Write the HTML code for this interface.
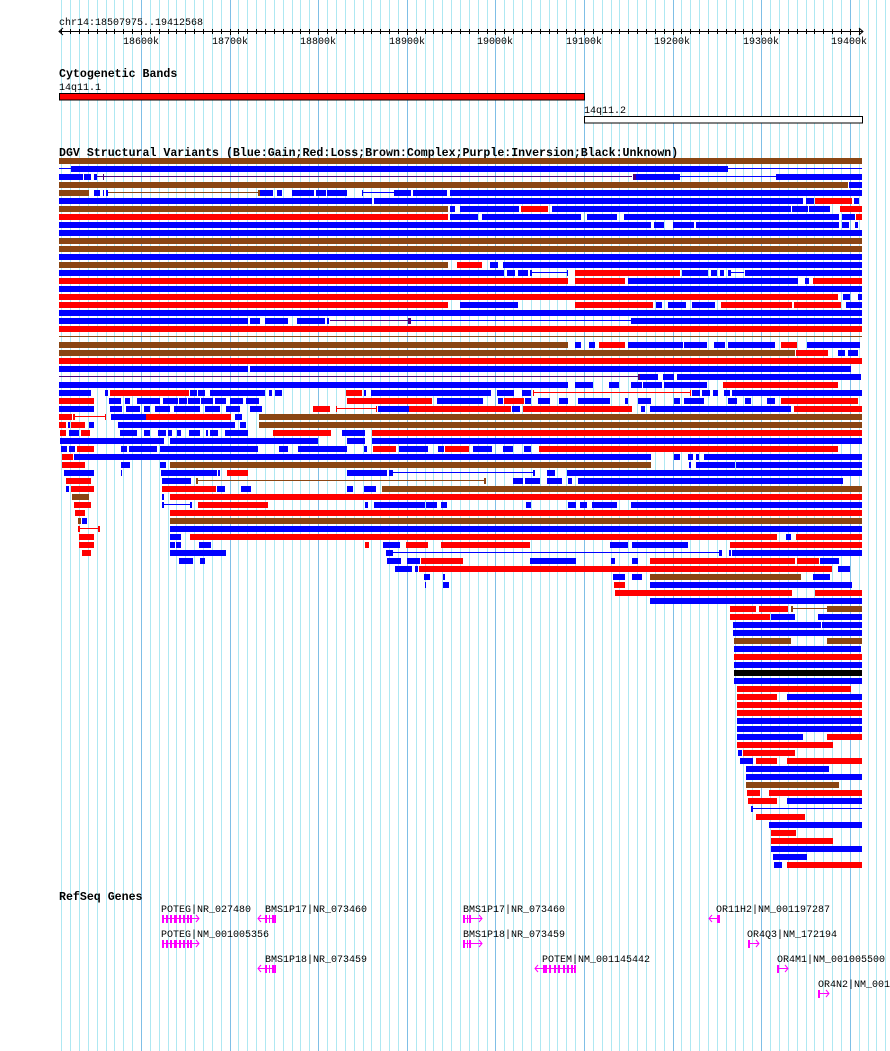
<!DOCTYPE html>
<html><head><meta charset="utf-8">
<style>
html,body{margin:0;padding:0;background:#fff;}
svg{display:block;}
text{font-family:"Liberation Mono",monospace;font-size:10px;fill:#000;}
.b{font-weight:bold;font-size:11.6px;}
</style></head>
<body>
<svg id="s" width="890" height="1051" xmlns="http://www.w3.org/2000/svg">
<g id="grid"></g>
<g id="ruler"></g>
<text x="59" y="25">chr14:18507975..19412568</text>
<text x="141" y="44" text-anchor="middle">18600k</text>
<text x="230" y="44" text-anchor="middle">18700k</text>
<text x="318" y="44" text-anchor="middle">18800k</text>
<text x="407" y="44" text-anchor="middle">18900k</text>
<text x="495" y="44" text-anchor="middle">19000k</text>
<text x="584" y="44" text-anchor="middle">19100k</text>
<text x="672" y="44" text-anchor="middle">19200k</text>
<text x="761" y="44" text-anchor="middle">19300k</text>
<text x="849" y="44" text-anchor="middle">19400k</text>
<text class="b" x="59" y="77">Cytogenetic Bands</text>
<text x="59" y="90">14q11.1</text>
<rect x="59.5" y="93.5" width="525" height="6.5" fill="#ff0000" stroke="#000" stroke-width="1"/>
<text x="584" y="113">14q11.2</text>
<rect x="584.5" y="116.5" width="278" height="6.5" fill="#fff" stroke="#000" stroke-width="1"/>
<text class="b" x="59" y="156">DGV Structural Variants (Blue:Gain;Red:Loss;Brown:Complex;Purple:Inversion;Black:Unknown)</text>
<g id="dgv"></g>
<text class="b" x="59" y="900">RefSeq Genes</text>
<text x="161" y="912">POTEG|NR_027480</text>
<text x="265" y="912">BMS1P17|NR_073460</text>
<text x="463" y="912">BMS1P17|NR_073460</text>
<text x="716" y="912">OR11H2|NM_001197287</text>
<text x="161" y="937">POTEG|NM_001005356</text>
<text x="463" y="937">BMS1P18|NR_073459</text>
<text x="747" y="937">OR4Q3|NM_172194</text>
<text x="265" y="962">BMS1P18|NR_073459</text>
<text x="542" y="962">POTEM|NM_001145442</text>
<text x="777" y="962">OR4M1|NM_001005500</text>
<text x="818" y="987">OR4N2|NM_001</text>
<g id="genes" fill="#ff00ff" stroke="none"></g>
</svg>
<script>
var NS="http://www.w3.org/2000/svg";
function el(p,t,a){var e=document.createElementNS(NS,t);for(var k in a)e.setAttribute(k,a[k]);p.appendChild(e);return e;}
var g=document.getElementById('grid');
for(var k=-9;k<=85;k++){var x=141+8.86*k;if(x<58.5||x>890)continue;var maj=(k%10==0);
el(g,'rect',{x:Math.round(x),y:0,width:1,height:1051,fill:maj?'#7fbfe6':'#aee8f2'});}
var r=document.getElementById('ruler');
el(r,'rect',{x:59,y:31,width:804,height:1,fill:'#000'});
el(r,'path',{d:'M63,28 L59,31.5 L63,35 M859,28 L863,31.5 L859,35',stroke:'#000',fill:'none','stroke-width':1});
for(var k=-9;k<=81;k++){var x=141+8.86*k;if(x<60||x>862)continue;el(r,'rect',{x:Math.round(x),y:29,width:1,height:(k%10==0)?6:5,fill:'#000'});}
var C={B:'#0000ff',R:'#ff0000',N:'#8b4513',P:'#4b0082',K:'#000000'};
var rows=[
"N59-862","b59-71 B71-728 b728-862","B59-83 B84-91 B94-97 p97-632 P103-104 P633-636 B636-680 b680-776 B776-862","N59-848 B849-862",
"N59-89 B94-100 B103-104 B106-108 n108-260 N258-260 B260-273 B277-282 B292-314 B316-326 B327-347 B362-363 b363-395 B394-411 B413-447 B450-862",
"B59-372 B374-803 B806-814 R815-852 B854-859","N59-448 B450-455 B460-519 R521-548 B552-791 B792-808 B809-830 R840-862",
"R59-448 B450-478 B482-581 B587-617 B624-839 B842-855 R856-862","B59-651 B654-664 B673-694 B696-839 B842-849 B855-858",
"B59-862","N59-862","N59-862","B59-862","N59-448 R457-482 B490-498 B503-862",
"B59-504 B507-515 B518-528 B530-532 b532-568 B567-568 R575-680 B682-708 B711-717 B720-724 B728-731 b731-744 B745-862",
"R59-568 R575-625 B628-798 B805-809 R813-862","B59-862","R59-838 B843-850 B858-862",
"R59-448 B460-518 R575-653 B656-662 B668-686 B692-715 R721-792 R794-841 B846-862","B59-862",
"B59-248 B250-260 B265-288 B297-325 B327-329 p330-408 P408-411 b411-631 B631-862","R59-862","n59-862",
"N59-568 B575-581 B589-595 R599-625 B628-683 B684-707 B714-725 B728-775 R781-797 B807-860","N59-795 R796-828 B838-845 B848-858",
"R59-862","B59-248 B250-851","p59-640 P638-640 B640-658 B663-674 B677-861",
"B59-568 B575-593 B609-619 B631-642 B643-662 B664-707 R723-838",
"B59-91 B105-108 R110-189 B190-197 B198-205 B210-265 B269-272 B275-282 R346-362 B364-366 B371-491 B497-514 B522-531 r533-690 R533-534 R690-691 B692-700 B702-710 B713-718 B724-730 B732-862",
"R59-94 B109-121 B125-130 B137-160 B163-178 B179-187 B188-200 B201-213 B215-226 B230-243 B246-259 R347-432 B437-483 B498-503 R504-524 B525-531 B538-550 B559-568 B578-610 B625-628 B638-651 B674-680 B684-704 B728-737 B745-751 B767-775 R781-858",
"B59-94 B110-122 B126-140 B144-150 B155-170 B174-200 B205-220 B226-240 B250-262 R313-330 R336-337 r337-376 R376-377 B378-409 R409-511 B512-520 R523-632 B641-645 B650-791 R794-862",
"R59-72 R73-75 r75-106 R105-106 B111-146 R146-231 B235-242 N259-862",
"R59-66 B68-70 R71-85 B89-94 B118-235 B240-246 N259-862",
"R60-66 B69-79 R81-90 B120-137 B144-150 B158-166 B168-172 B177-181 B189-200 B206-208 B210-218 B225-248 R273-331 B342-365 R372-862",
"B60-164 B170-318 B347-365 B372-862",
"B61-67 B69-75 R77-94 B121-127 B129-157 B160-258 B279-288 B298-347 B364-367 R373-396 B399-428 B438-444 R445-469 B473-492 B503-513 B524-531 R539-838",
"R62-73 B74-651 B674-680 B688-693 B696-699 B704-862",
"R62-85 B121-130 B160-166 N170-651 B689-691 B696-735 B736-862",
"B64-94 B121-122 B161-217 B218-220 R227-248 B347-387 B389-393 b393-533 B533-535 B547-555 B567-862",
"R66-91 B162-191 N196-198 n198-485 N484-486 B513-523 B525-540 B547-562 B568-572 B578-843",
"B66-69 R71-94 R162-216 B217-225 B241-251 B347-353 B364-376 N382-862",
"N72-89 B162-164 R170-862",
"R74-91 B162-164 b164-191 B190-192 R198-268 B365-368 B374-425 B426-437 B441-447 B526-531 B568-576 B580-587 B592-617 B631-862",
"R75-85 R170-862","N78-81 B82-87 N170-862","R78-80 r80-99 R98-100 B170-862",
"R79-94 B170-181 R190-777 B786-791 R796-862",
"R79-94 B170-175 B176-181 B199-211 R365-369 B383-389 B389-400 R406-428 R441-530 B610-628 B632-688 R730-862",
"R82-91 B170-226 B386-393 b393-720 B719-722 B729-731 B732-862",
"B179-193 B200-205 B387-401 B407-420 R421-463 B530-576 B611-615 B632-638 R650-795 R797-819 B820-839",
"B395-412 B415-418 R419-832 B838-850","B424-430 B443-445 B613-625 B632-642 N650-801 B813-830",
"B425-426 B443-449 R614-625 B650-852","R615-792 R815-862","B650-862",
"R730-756 R759-788 N791-793 n793-827 N827-862","R730-770 B771-795 B818-862","B733-821 B822-862","B733-862",
"N734-791 N827-862","B734-861","R734-862","B734-862","K734-862","B734-862","R737-851","R737-777 B787-862",
"R737-862","R737-862","B737-862","B737-862","B737-803 R827-862","R737-833","B738-742 R743-795",
"B740-753 R756-777 R787-862","B746-829","B746-862","N746-839","R747-760 R769-862","R748-777 B787-862",
"B751-753 b753-862","R756-805","B769-862","R771-796","R771-833","B771-862","B773-807","B774-782 R787-862"];
var d=document.getElementById('dgv');
rows.forEach(function(s,i){var y=158+8*i;s.split(' ').forEach(function(t){var c=t[0],m=t.slice(1).split('-'),a=+m[0],b=+m[1];
var up=c.toUpperCase();var col=C[up];if(c===up)el(d,'rect',{x:a,y:y,width:Math.max(1,b-a),height:6,fill:col});
else el(d,'rect',{x:a,y:y+2,width:b-a,height:1,fill:col});});});
var G=document.getElementById('genes');
function gene(y,x1,x2,ex,dir){el(G,'rect',{x:x1,y:y+3,width:x2-x1,height:1});
ex.forEach(function(e){el(G,'rect',{x:e[0],y:y,width:e[1]-e[0],height:8});});
var ax=dir>0?x2:x1;el(G,'path',{d:dir>0?('M'+(ax-3)+','+(y)+' L'+ax+','+(y+3.5)+' L'+(ax-3)+','+(y+7)):('M'+(ax+3)+','+(y)+' L'+ax+','+(y+3.5)+' L'+(ax+3)+','+(y+7)),stroke:'#ff00ff',fill:'none','stroke-width':1});}
var pe=[[162,164],[166,168],[170,172],[174,177],[179,181],[183,185],[187,189],[190,192]];
gene(915,162,199,pe,1);gene(940,162,199,pe,1);
gene(915,258,276,[[265,267],[269,270],[272,276]],-1);gene(965,258,276,[[265,267],[269,270],[272,276]],-1);
gene(915,463,482,[[463,465],[467,468],[469,471]],1);gene(940,463,482,[[463,465],[467,468],[469,471]],1);
gene(965,535,576,[[543,547],[549,551],[554,556],[558,560],[563,565],[567,569],[571,573],[574,576]],-1);
gene(915,709,720,[[717,720]],-1);
gene(940,748,759,[[748,750]],1);gene(965,777,788,[[777,779]],1);gene(990,818,829,[[818,820]],1);
</script>
</body></html>
